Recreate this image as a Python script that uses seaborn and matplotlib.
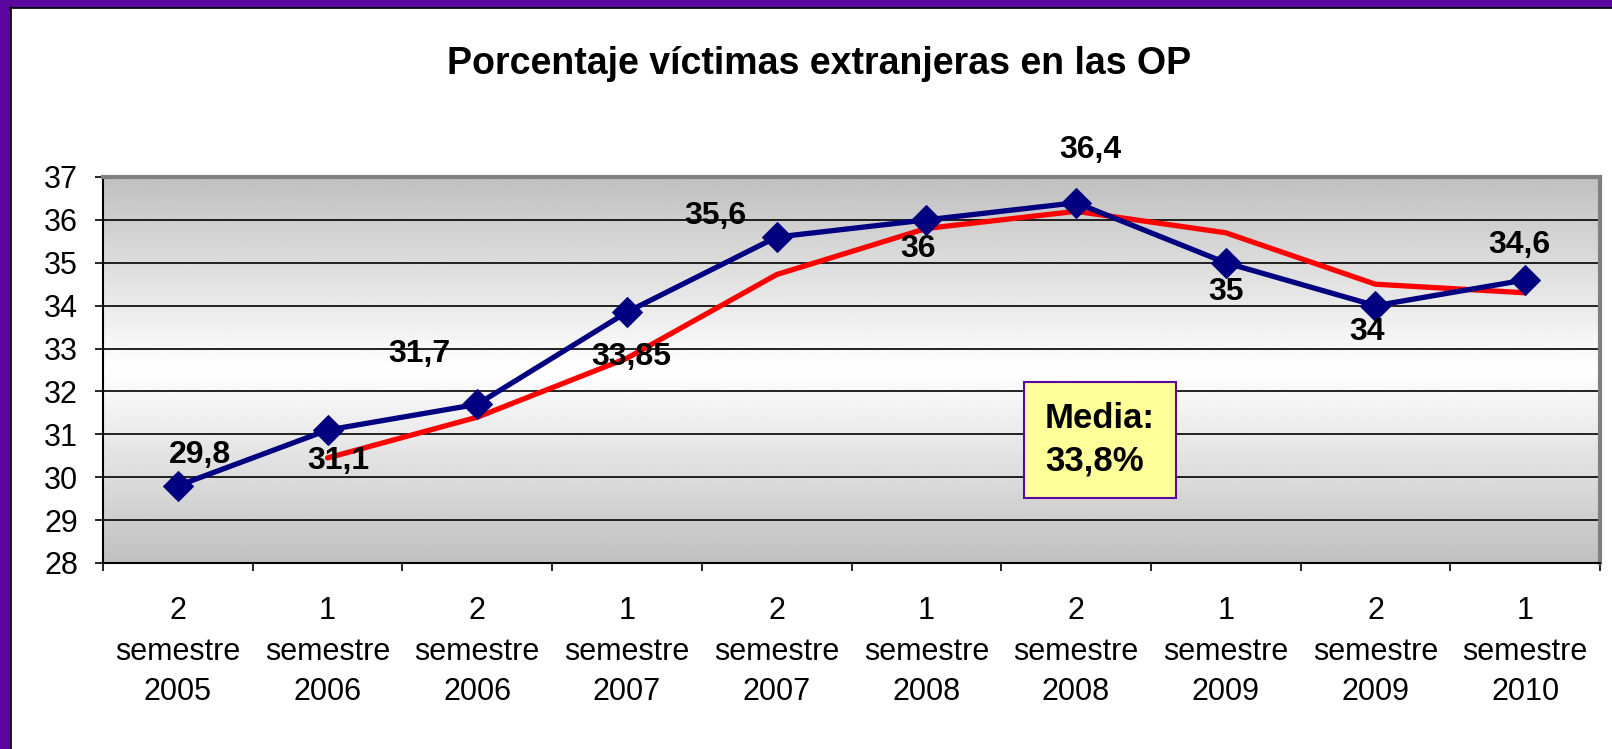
import numpy as np
import pandas as pd
import matplotlib.pyplot as plt
import matplotlib.patches as mpatches
import seaborn as sns

# Datos
periodos = ['2\nsemestre\n2005', '1\nsemestre\n2006', '2\nsemestre\n2006', '1\nsemestre\n2007',
            '2\nsemestre\n2007', '1\nsemestre\n2008', '2\nsemestre\n2008', '1\nsemestre\n2009',
            '2\nsemestre\n2009', '1\nsemestre\n2010']
porcentaje = [29.8, 31.1, 31.7, 33.85, 35.6, 36.0, 36.4, 35.0, 34.0, 34.6]
etiquetas = ['29,8', '31,1', '31,7', '33,85', '35,6', '36', '36,4', '35', '34', '34,6']
media_movil = [np.nan, 30.45, 31.4, 32.775, 34.725, 35.8, 36.2, 35.7, 34.5, 34.3]
y_ticks = list(range(28, 38))

# desplazamiento de cada etiqueta (puntos) respecto al marcador
desplaz = [(16, 22), (8, -22), (-42, 36), (3, -32), (-44, 15), (-6, -21), (10, 38), (0, -21), (-6, -19), (-4, 25)]

sns.set_theme(style="white")
plt.rcParams['font.family'] = ['Liberation Sans', 'DejaVu Sans']
plt.rcParams['text.color'] = 'black'
plt.rcParams['xtick.color'] = 'black'
plt.rcParams['ytick.color'] = 'black'

df = pd.DataFrame({'x': range(len(periodos)), 'pct': porcentaje, 'media': media_movil})

fig = plt.figure(figsize=(16.12, 7.49), dpi=100)
ax = fig.add_axes([103 / 1612, 186 / 749, 1497 / 1612, 386 / 749])

# marco morado
fig.patches.append(mpatches.Rectangle((0, 0), 10 / 1612, 1, transform=fig.transFigure,
                                      color='#5C06A0', zorder=0))
fig.patches.append(mpatches.Rectangle((0, 1 - 7 / 749), 1, 7 / 749, transform=fig.transFigure,
                                      color='#5C06A0', zorder=0))
fig.lines.append(plt.Line2D([10.5 / 1612, 10.5 / 1612], [0, 1 - 7 / 749], transform=fig.transFigure,
                            color='black', lw=1.2))
fig.lines.append(plt.Line2D([10 / 1612, 1], [1 - 7.5 / 749, 1 - 7.5 / 749], transform=fig.transFigure,
                            color='black', lw=1.2))

# fondo degradado gris-blanco-gris
yy = np.linspace(1, 0, 200)
grad = 0.753 + 0.247 * (1 - np.abs(yy - 0.5) * 2)
ax.imshow(grad.reshape(-1, 1), extent=[-0.5, 9.5, 28, 37], aspect='auto', cmap='gray',
          vmin=0, vmax=1, zorder=0, interpolation='bilinear')

for y in y_ticks[1:-1]:
    ax.axhline(y, color='black', lw=1.2, zorder=1)

sns.lineplot(data=df, x='x', y='media', ax=ax, color='#FF0000', lw=3.8, zorder=3)
sns.lineplot(data=df, x='x', y='pct', ax=ax, color='#000080', lw=3.8, marker='D',
             markersize=15, markeredgecolor='#000080', zorder=4)

for i, (v, t) in enumerate(zip(porcentaje, etiquetas)):
    ax.annotate(t, (i, v), xytext=desplaz[i], textcoords='offset points', ha='center', va='center',
                fontsize=23, fontweight='bold', color='black', zorder=5)

ax.set_xlim(-0.5, 9.5)
ax.set_ylim(28, 37)
ax.set_yticks(y_ticks)
ax.set_xticks(range(len(periodos)))
ax.set_xticklabels(periodos, linespacing=1.45)
ax.set_xticks(np.arange(-0.5, 10, 1), minor=True)
ax.tick_params(axis='x', which='major', length=0, pad=24, labelsize=22)
ax.tick_params(axis='x', which='minor', bottom=True, length=6, width=1.2, color='black', direction='out')
ax.tick_params(axis='y', left=True, length=6, width=1.2, color='black', pad=12, labelsize=22)
ax.set_xlabel('')
ax.set_ylabel('')

for s in ['top', 'right']:
    ax.spines[s].set_color('#808080')
    ax.spines[s].set_linewidth(3)
ax.spines['left'].set_color('black')
ax.spines['left'].set_linewidth(1.5)
ax.spines['bottom'].set_color('black')
ax.spines['bottom'].set_linewidth(1.5)

# caja de la media
ax.text(1045 / 1612, 1 - 440 / 749, 'Media:\n33,8%', transform=fig.transFigure, fontsize=25,
        fontweight='bold', ha='left', va='center', linespacing=1.35, zorder=6,
        bbox=dict(boxstyle='square,pad=0.6', facecolor='#FFFF99', edgecolor='#5C06A0', lw=1.5))

fig.text(819 / 1612, 1 - 64 / 749, 'Porcentaje víctimas extranjeras en las OP', ha='center', va='center',
         fontsize=27, fontweight='bold', color='black')

fig.savefig('out.png', dpi=100, facecolor='white')
